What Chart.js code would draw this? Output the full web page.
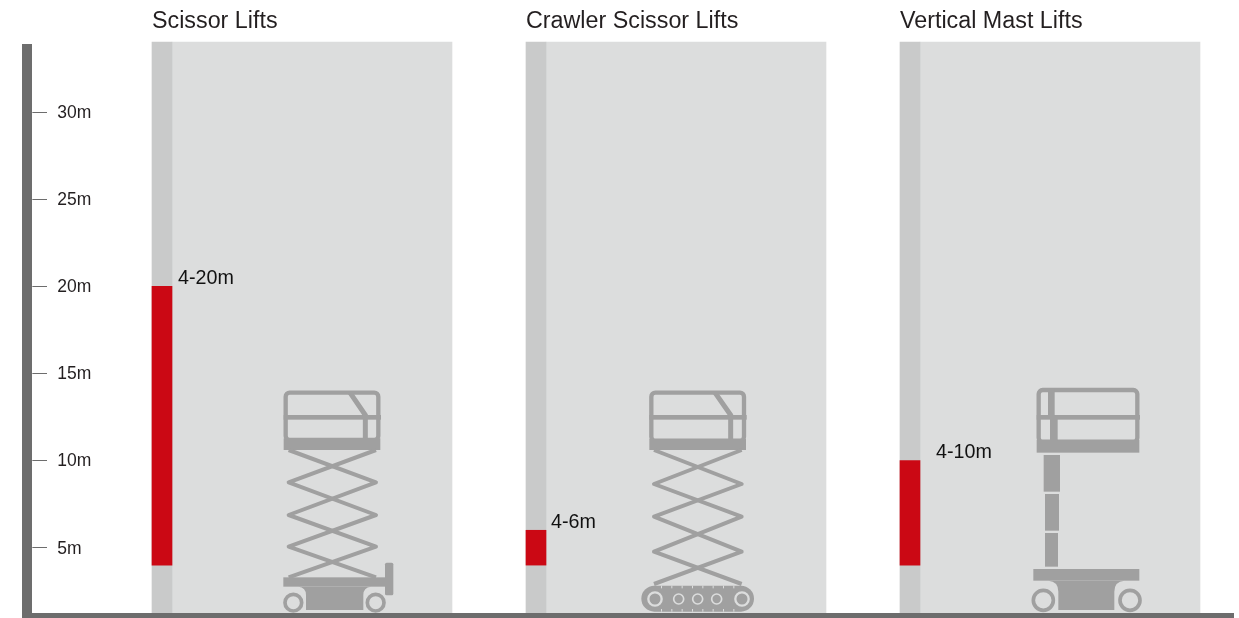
<!DOCTYPE html>
<html>
<head>
<meta charset="utf-8">
<title>Lift working heights</title>
<script src="https://cdn.jsdelivr.net/npm/chart.js@4"></script>
<style>
    html, body { margin: 0; padding: 0; background: #fff; }
    #wrap { width: 1239px; height: 618px; position: relative; }
</style>
</head>
<body>
<div id="wrap"><canvas id="liftChart"></canvas></div>
<script>
// Categories sit on a grid of 3 slots per lift type, the blanks only hold the spacing
const categories = ['', 'Scissor Lifts', '', '', 'Crawler Scissor Lifts', '', '', 'Vertical Mast Lifts', '', ''];
const rangeLow = [null, 4, null, null, 4, null, null, 4, null, null];
const rangeHigh = [null, 20, null, null, 6, null, null, 10, null, null];
const rangeLabels = ['4-20m', '4-6m', '4-10m'];
const tickValues = [5, 10, 15, 20, 25, 30];
const axisMin = 1.25;
const axisMax = 33.92;
const columnTop = 34.03;

const AXIS_COLOR = '#6d6d6d';
const ICON_COLOR = '#a0a0a0';
const PANEL_COLOR = '#dcdddd';
const STRIP_COLOR = '#c9caca';
const RANGE_COLOR = '#cb0814';

const columnFull = categories.map(c => c ? [axisMin, columnTop] : null);
const rangeBars = rangeLow.map((low, i) => low === null ? null : [low, rangeHigh[i]]);

function rangeElements(chart) {
    return chart.getDatasetMeta(1).data.filter((bar, i) => rangeLow[i] !== null);
}

// Thick left and bottom axis lines
const axisFrame = {
    id: 'axisFrame',
    afterDraw(chart) {
        const { ctx, chartArea } = chart;
        ctx.save();
        ctx.fillStyle = AXIS_COLOR;
        ctx.fillRect(22, chartArea.top, 10, chartArea.bottom - chartArea.top + 5);
        ctx.fillRect(22, chartArea.bottom, 1212, 5);
        ctx.restore();
    }
};

// Range labels next to the red bars
const rangeText = {
    id: 'rangeText',
    afterDatasetsDraw(chart) {
        const { ctx } = chart;
        const offsets = [6, 5, 16];
        ctx.save();
        ctx.font = '19.7px "Liberation Sans", Arial, sans-serif';
        ctx.fillStyle = '#111';
        ctx.textBaseline = 'middle';
        rangeElements(chart).forEach((bar, i) => {
            ctx.fillText(rangeLabels[i], bar.x + bar.width / 2 + offsets[i], bar.y - 8);
        });
        ctx.restore();
    }
};

function strokePath(ctx, points, width) {
    ctx.lineWidth = width;
    ctx.beginPath();
    points.forEach((p, i) => i ? ctx.lineTo(p[0], p[1]) : ctx.moveTo(p[0], p[1]));
    ctx.stroke();
}

function wheel(ctx, x, y, r, ring) {
    ctx.fillStyle = PANEL_COLOR;
    ctx.strokeStyle = ICON_COLOR;
    ctx.lineWidth = ring;
    ctx.beginPath();
    ctx.arc(x, y, r, 0, Math.PI * 2);
    ctx.fill();
    ctx.stroke();
    ctx.fillStyle = ICON_COLOR;
}

// Track rollers are a light ring on the dark track
function roller(ctx, x, y, r, ring) {
    ctx.strokeStyle = PANEL_COLOR;
    ctx.lineWidth = ring;
    ctx.beginPath();
    ctx.arc(x, y, r, 0, Math.PI * 2);
    ctx.stroke();
    ctx.strokeStyle = ICON_COLOR;
}

function basket(ctx, l, r, top, mid, floorTop, floorBottom) {
    ctx.lineWidth = 13;
    ctx.beginPath();
    ctx.roundRect(l + 6, top, r - l - 12, floorTop - top + 5, 12);
    ctx.stroke();
    ctx.fillRect(l, mid - 7, r - l + 2, 14);
    ctx.fillRect(l, floorTop, r - l, floorBottom - floorTop);
}

function scissors(ctx, lx, rx, ys) {
    const a = ys.map((y, i) => [i % 2 ? rx : lx, y]);
    const b = ys.map((y, i) => [i % 2 ? lx : rx, y]);
    ctx.lineJoin = 'round';
    strokePath(ctx, a, 12);
    strokePath(ctx, b, 12);
}

// Machine drawings, in units of a third of a pixel
function drawScissorLift(ctx) {
    basket(ctx, 41, 331, 38, 112, 175, 210);
    strokePath(ctx, [[240, 38], [286, 105], [286, 175]], 15);
    scissors(ctx, 56, 318, [210, 307, 405, 500, 592]);
    ctx.fillRect(40, 592, 305, 28);
    ctx.beginPath();
    ctx.moveTo(85, 620);
    ctx.quadraticCurveTo(108, 622, 108, 645);
    ctx.lineTo(108, 690);
    ctx.lineTo(280, 690);
    ctx.lineTo(280, 645);
    ctx.quadraticCurveTo(280, 622, 303, 620);
    ctx.fill();
    ctx.beginPath();
    ctx.roundRect(345, 548, 25, 98, 5);
    ctx.fill();
    wheel(ctx, 70, 668, 25, 11);
    wheel(ctx, 317, 668, 25, 11);
}

function drawCrawlerLift(ctx) {
    basket(ctx, 58, 348, 38, 112, 177, 210);
    strokePath(ctx, [[255, 38], [302, 105], [302, 177]], 15);
    scissors(ctx, 72, 335, [210, 312, 410, 515, 612]);
    ctx.beginPath();
    ctx.roundRect(34, 617, 338, 78, 39);
    ctx.fill();
    ctx.fillStyle = PANEL_COLOR;
    for (let x = 93; x < 320; x += 31) {
        ctx.fillRect(x, 617, 3, 8);
        ctx.fillRect(x, 687, 3, 8);
    }
    ctx.fillStyle = ICON_COLOR;
    roller(ctx, 75, 657, 20, 7);
    roller(ctx, 336, 657, 20, 7);
    [146, 203, 260].forEach(x => roller(ctx, x, 657, 15, 5));
}

function drawMastLift(ctx) {
    basket(ctx, 50, 358, 30, 112, 180, 218);
    ctx.fillRect(84, 25, 20, 85);
    ctx.fillRect(90, 115, 23, 70);
    ctx.fillRect(71, 225, 49, 110);
    ctx.fillRect(75, 342, 42, 110);
    ctx.fillRect(75, 459, 39, 101);
    ctx.fillRect(40, 567, 318, 35);
    ctx.beginPath();
    ctx.moveTo(85, 602);
    ctx.quadraticCurveTo(115, 604, 115, 635);
    ctx.lineTo(115, 690);
    ctx.lineTo(283, 690);
    ctx.lineTo(283, 635);
    ctx.quadraticCurveTo(283, 604, 313, 602);
    ctx.fill();
    wheel(ctx, 70, 661, 30, 11);
    wheel(ctx, 330, 661, 30, 11);
}

const liftIcons = {
    id: 'liftIcons',
    afterDatasetsDraw(chart) {
        const { ctx, chartArea } = chart;
        const shifts = [98, 84, 100];
        const drawers = [drawScissorLift, drawCrawlerLift, drawMastLift];
        rangeElements(chart).forEach((bar, i) => {
            ctx.save();
            ctx.translate(bar.x + bar.width / 2 + shifts[i], chartArea.bottom - 233);
            ctx.scale(1 / 3, 1 / 3);
            ctx.fillStyle = ICON_COLOR;
            ctx.strokeStyle = ICON_COLOR;
            drawers[i](ctx);
            ctx.restore();
        });
    }
};

document.addEventListener('DOMContentLoaded', () => {
    new Chart(document.getElementById('liftChart'), {
        type: 'bar',
        plugins: [liftIcons, rangeText, axisFrame],
        data: {
            labels: categories,
            datasets: [
                // Red range is drawn over the strip, both share the first stack
                { label: 'Full height', data: columnFull, backgroundColor: STRIP_COLOR, stack: 'strip', barThickness: 20, order: 2 },
                { label: 'Working height', data: rangeBars, backgroundColor: RANGE_COLOR, stack: 'strip', barThickness: 20, order: 1 },
                { label: 'Panel', data: columnFull, backgroundColor: PANEL_COLOR, stack: 'panel', barThickness: 280, order: 3 }
            ]
        },
        options: {
            responsive: true,
            maintainAspectRatio: false,
            animation: false,
            clip: false,
            layout: { padding: { left: 0, right: 69.67, top: 0, bottom: 5 } },
            plugins: { legend: { display: false }, tooltip: { enabled: false } },
            scales: {
                x: {
                    position: 'top',
                    offset: false,
                    border: { display: false },
                    grid: { display: false, drawTicks: false },
                    afterFit(scale) { scale.height = 44; },
                    ticks: {
                        autoSkip: false,
                        maxRotation: 0,
                        minRotation: 0,
                        align: 'start',
                        labelOffset: -20,
                        padding: 8,
                        color: '#231f20',
                        font: { family: '"Liberation Sans", Arial, sans-serif', size: 23.3 }
                    }
                },
                y: {
                    min: axisMin,
                    max: axisMax,
                    stacked: false,
                    border: { display: false },
                    grid: { drawOnChartArea: false, drawTicks: true, tickLength: 15, color: AXIS_COLOR, lineWidth: 1 },
                    afterFit(scale) {
                        scale.width = 47.33;
                        scale.paddingTop = 0;
                        scale.paddingBottom = 0;
                    },
                    afterBuildTicks(scale) { scale.ticks = tickValues.map(value => ({ value })); },
                    ticks: {
                        mirror: true,
                        padding: 10,
                        labelOffset: 1,
                        color: '#231f20',
                        font: { family: '"Liberation Sans", Arial, sans-serif', size: 17.5 },
                        callback: value => value + 'm'
                    }
                }
            }
        }
    });
});
</script>
</body>
</html>
